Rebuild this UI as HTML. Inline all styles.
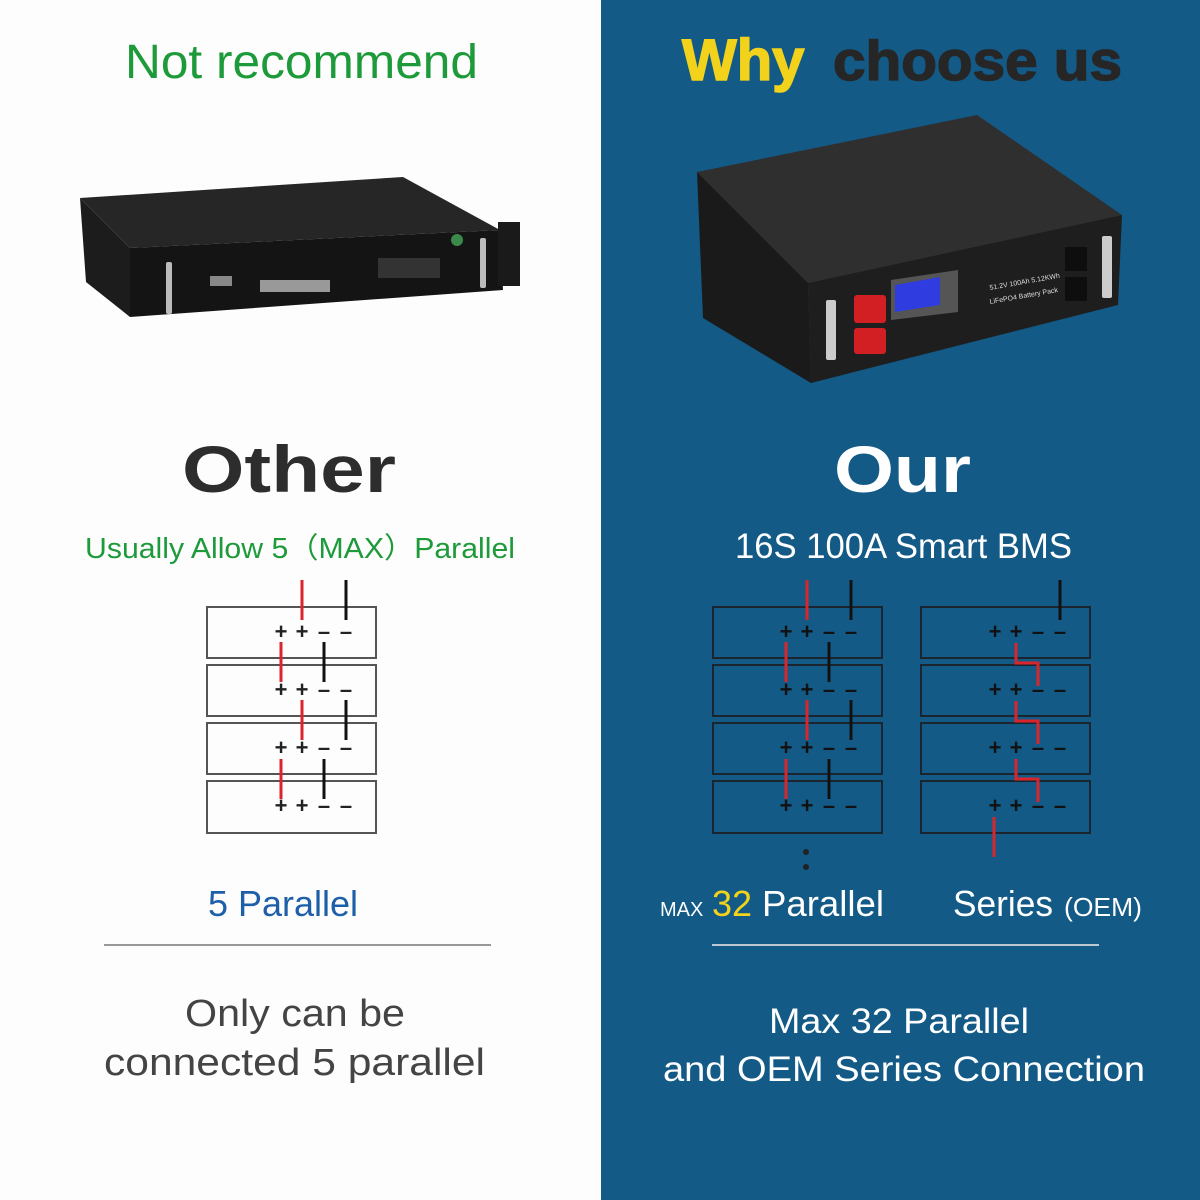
<!DOCTYPE html>
<html><head><meta charset="utf-8"><style>
body{margin:0;width:1200px;height:1200px;overflow:hidden;font-family:"Liberation Sans",sans-serif;}
svg{display:block}
</style></head><body>
<svg width="1200" height="1200" viewBox="0 0 1200 1200" xmlns="http://www.w3.org/2000/svg" font-family="Liberation Sans, sans-serif">
<rect width="1200" height="1200" fill="#fdfdfd"/>
<rect x="601" y="0" width="599" height="1200" fill="#135a86"/>

<!-- Titles -->
<text x="125" y="78" font-size="48" fill="#1d9a3a" textLength="353" lengthAdjust="spacingAndGlyphs">Not recommend</text>
<text x="682" y="80" font-size="58" font-weight="bold" fill="#f2d21a" stroke="#f2d21a" stroke-width="1.5">Why</text>
<text x="833" y="80" font-size="56" font-weight="bold" fill="#262626" stroke="#262626" stroke-width="1.5" textLength="289" lengthAdjust="spacingAndGlyphs">choose us</text>

<!-- Left battery -->
<polygon points="80,198 403,177 500,230 130,248" fill="#262626"/>
<polygon points="80,198 130,248 130,317 86,282" fill="#1c1c1c"/>
<polygon points="130,248 500,230 503,290 130,317" fill="#141414"/>
<rect x="498" y="222" width="22" height="64" fill="#1a1a1a"/>
<rect x="166" y="262" width="6" height="52" fill="#bbb" rx="2"/>
<rect x="480" y="238" width="6" height="50" fill="#bbb" rx="2"/>
<rect x="260" y="280" width="70" height="12" fill="#999"/>
<rect x="210" y="276" width="22" height="10" fill="#888"/>
<rect x="378" y="258" width="62" height="20" fill="#333"/>
<circle cx="457" cy="240" r="6" fill="#3a8a4a"/>

<!-- Right battery -->
<polygon points="697,172 977,115 1122,215 808,283" fill="#2f2f2f"/>
<polygon points="697,172 808,283 811,383 703,318" fill="#1a1a1a"/>
<polygon points="808,283 1122,215 1118,305 811,383" fill="#1e1e1e"/>
<rect x="826" y="300" width="10" height="60" fill="#ccc" rx="2"/>
<rect x="1102" y="236" width="10" height="62" fill="#ccc" rx="2"/>
<rect x="854" y="295" width="32" height="28" fill="#d21f24" rx="3"/>
<rect x="854" y="328" width="32" height="26" fill="#d21f24" rx="3"/>
<polygon points="891,280 958,270 958,312 891,320" fill="#555"/>
<polygon points="895,285 940,277 940,305 895,312" fill="#2f3de0"/>
<rect x="1065" y="247" width="22" height="24" fill="#0e0e0e"/>
<rect x="1065" y="277" width="22" height="24" fill="#0e0e0e"/>
<text x="990" y="290" font-size="7" fill="#ddd" transform="rotate(-10 990 290)">51.2V 100Ah 5.12KWh</text>
<text x="990" y="304" font-size="7" fill="#ddd" transform="rotate(-10 990 304)">LiFePO4 Battery Pack</text>

<!-- Other / Our -->
<text x="182" y="492" font-size="66" font-weight="bold" fill="#2d2d2d" textLength="214" lengthAdjust="spacingAndGlyphs">Other</text>
<text x="834" y="492" font-size="66" font-weight="bold" fill="#ffffff" textLength="137" lengthAdjust="spacingAndGlyphs">Our</text>
<text x="85" y="558" font-size="29" fill="#1d9a3a" textLength="430" lengthAdjust="spacingAndGlyphs">Usually Allow 5（MAX）Parallel</text>
<text x="735" y="558" font-size="35" fill="#ffffff" textLength="337" lengthAdjust="spacingAndGlyphs">16S 100A Smart BMS</text>

<!-- Left diagram -->
<g fill="none" stroke="#555" stroke-width="2">
<rect x="207" y="607" width="169" height="51"/><rect x="207" y="665" width="169" height="51"/>
<rect x="207" y="723" width="169" height="51"/><rect x="207" y="781" width="169" height="52"/>
</g>
<g stroke-width="3">
<line x1="302" y1="580" x2="302" y2="620" stroke="#d9252b"/><line x1="346" y1="580" x2="346" y2="620" stroke="#111"/>
<line x1="281" y1="642" x2="281" y2="682" stroke="#d9252b"/><line x1="324" y1="642" x2="324" y2="682" stroke="#111"/>
<line x1="302" y1="700" x2="302" y2="740" stroke="#d9252b"/><line x1="346" y1="700" x2="346" y2="740" stroke="#111"/>
<line x1="281" y1="759" x2="281" y2="799" stroke="#d9252b"/><line x1="324" y1="759" x2="324" y2="799" stroke="#111"/>
</g>
<g font-size="22" font-weight="bold" fill="#222" text-anchor="middle">
<text x="281" y="639">+</text><text x="302" y="639">+</text><text x="324" y="639">–</text><text x="346" y="639">–</text>
<text x="281" y="697">+</text><text x="302" y="697">+</text><text x="324" y="697">–</text><text x="346" y="697">–</text>
<text x="281" y="755">+</text><text x="302" y="755">+</text><text x="324" y="755">–</text><text x="346" y="755">–</text>
<text x="281" y="813">+</text><text x="302" y="813">+</text><text x="324" y="813">–</text><text x="346" y="813">–</text>
</g>

<!-- Right diagrams -->
<g fill="none" stroke="#1a2530" stroke-width="2">
<rect x="713" y="607" width="169" height="51"/><rect x="713" y="665" width="169" height="51"/>
<rect x="713" y="723" width="169" height="51"/><rect x="713" y="781" width="169" height="52"/>
<rect x="921" y="607" width="169" height="51"/><rect x="921" y="665" width="169" height="51"/>
<rect x="921" y="723" width="169" height="51"/><rect x="921" y="781" width="169" height="52"/>
</g>
<g stroke-width="3" fill="none">
<line x1="807" y1="580" x2="807" y2="620" stroke="#d9252b"/><line x1="851" y1="580" x2="851" y2="620" stroke="#111"/>
<line x1="786" y1="642" x2="786" y2="682" stroke="#d9252b"/><line x1="829" y1="642" x2="829" y2="682" stroke="#111"/>
<line x1="807" y1="700" x2="807" y2="740" stroke="#d9252b"/><line x1="851" y1="700" x2="851" y2="740" stroke="#111"/>
<line x1="786" y1="759" x2="786" y2="799" stroke="#d9252b"/><line x1="829" y1="759" x2="829" y2="799" stroke="#111"/>
<line x1="1060" y1="580" x2="1060" y2="620" stroke="#111"/>
<polyline points="1016,643 1016,663 1038,663 1038,686" stroke="#d9252b"/>
<polyline points="1016,701 1016,721 1038,721 1038,744" stroke="#d9252b"/>
<polyline points="1016,759 1016,779 1038,779 1038,802" stroke="#d9252b"/>
<line x1="994" y1="817" x2="994" y2="857" stroke="#d9252b"/>
</g>
<circle cx="806" cy="852" r="3" fill="#222"/><circle cx="806" cy="867" r="3" fill="#222"/>
<g font-size="22" font-weight="bold" fill="#111" text-anchor="middle">
<text x="786" y="639">+</text><text x="807" y="639">+</text><text x="829" y="639">–</text><text x="851" y="639">–</text>
<text x="786" y="697">+</text><text x="807" y="697">+</text><text x="829" y="697">–</text><text x="851" y="697">–</text>
<text x="786" y="755">+</text><text x="807" y="755">+</text><text x="829" y="755">–</text><text x="851" y="755">–</text>
<text x="786" y="813">+</text><text x="807" y="813">+</text><text x="829" y="813">–</text><text x="851" y="813">–</text>
<text x="995" y="639">+</text><text x="1016" y="639">+</text><text x="1038" y="639">–</text><text x="1060" y="639">–</text>
<text x="995" y="697">+</text><text x="1016" y="697">+</text><text x="1038" y="697">–</text><text x="1060" y="697">–</text>
<text x="995" y="755">+</text><text x="1016" y="755">+</text><text x="1038" y="755">–</text><text x="1060" y="755">–</text>
<text x="995" y="813">+</text><text x="1016" y="813">+</text><text x="1038" y="813">–</text><text x="1060" y="813">–</text>
</g>

<!-- Bottom labels -->
<text x="208" y="916" font-size="36" fill="#1d5fa8" textLength="150" lengthAdjust="spacingAndGlyphs">5 Parallel</text>
<text x="660" y="916" font-size="20" fill="#fff">MAX</text>
<text x="712" y="916" font-size="36" fill="#f2d21a">32</text>
<text x="762" y="916" font-size="36" fill="#fff" textLength="122" lengthAdjust="spacingAndGlyphs">Parallel</text>
<text x="953" y="916" font-size="36" fill="#fff" textLength="100" lengthAdjust="spacingAndGlyphs">Series</text>
<text x="1064" y="916" font-size="26" fill="#fff" textLength="78" lengthAdjust="spacingAndGlyphs">(OEM)</text>
<line x1="104" y1="945" x2="491" y2="945" stroke="#999" stroke-width="2"/>
<line x1="712" y1="945" x2="1099" y2="945" stroke="#bcc7d2" stroke-width="2"/>
<text x="185" y="1026" font-size="38" fill="#444" textLength="220" lengthAdjust="spacingAndGlyphs">Only can be</text>
<text x="104" y="1075" font-size="38" fill="#444" textLength="381" lengthAdjust="spacingAndGlyphs">connected 5 parallel</text>
<text x="769" y="1033" font-size="35" fill="#fff" textLength="260" lengthAdjust="spacingAndGlyphs">Max 32 Parallel</text>
<text x="663" y="1081" font-size="35" fill="#fff" textLength="482" lengthAdjust="spacingAndGlyphs">and OEM Series Connection</text>
</svg>
</body></html>
